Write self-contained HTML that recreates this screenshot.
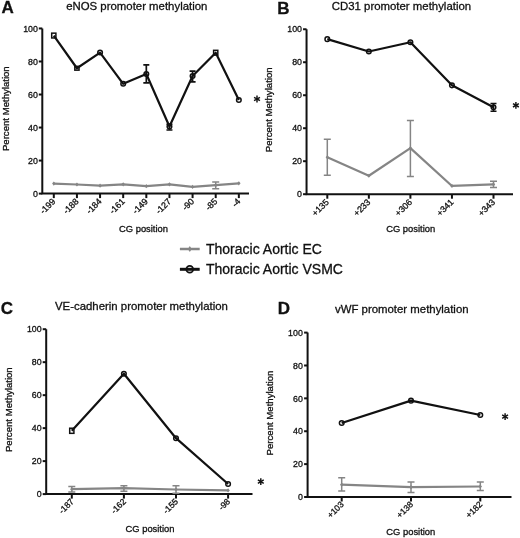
<!DOCTYPE html>
<html><head><meta charset="utf-8"><style>
html,body{margin:0;padding:0;background:#fff;}
body{width:520px;height:538px;overflow:hidden;font-family:"Liberation Sans", sans-serif;}
svg{display:block;filter:grayscale(1);}
text{stroke:#111;stroke-width:0.3px;}
</style></head><body>
<svg width="520" height="538" viewBox="0 0 520 538" font-family='"Liberation Sans", sans-serif' fill="#111">
<rect width="520" height="538" fill="#fff"/>
<text x="1.5" y="13.3" font-size="17" font-weight="bold" stroke="#111" stroke-width="0.5">A</text><text x="66.2" y="10.2" font-size="11.4">eNOS promoter methylation</text><path d="M42.3 28.45 V193.6 H249" fill="none" stroke="#111" stroke-width="2"/><line x1="38.8" y1="193.60" x2="42.3" y2="193.60" stroke="#111" stroke-width="2"/><text x="37.9" y="196.80" font-size="8.8" text-anchor="end">0</text><line x1="38.8" y1="160.57" x2="42.3" y2="160.57" stroke="#111" stroke-width="2"/><text x="37.9" y="163.77" font-size="8.8" text-anchor="end">20</text><line x1="38.8" y1="127.54" x2="42.3" y2="127.54" stroke="#111" stroke-width="2"/><text x="37.9" y="130.74" font-size="8.8" text-anchor="end">40</text><line x1="38.8" y1="94.51" x2="42.3" y2="94.51" stroke="#111" stroke-width="2"/><text x="37.9" y="97.71" font-size="8.8" text-anchor="end">60</text><line x1="38.8" y1="61.48" x2="42.3" y2="61.48" stroke="#111" stroke-width="2"/><text x="37.9" y="64.68" font-size="8.8" text-anchor="end">80</text><line x1="38.8" y1="28.45" x2="42.3" y2="28.45" stroke="#111" stroke-width="2"/><text x="37.9" y="31.65" font-size="8.8" text-anchor="end">100</text><line x1="53.80" y1="193.6" x2="53.80" y2="198.1" stroke="#111" stroke-width="2"/><text transform="translate(56.00,202.10) rotate(-45)" font-size="8.8" text-anchor="end">-199</text><line x1="76.93" y1="193.6" x2="76.93" y2="198.1" stroke="#111" stroke-width="2"/><text transform="translate(79.13,202.10) rotate(-45)" font-size="8.8" text-anchor="end">-188</text><line x1="100.06" y1="193.6" x2="100.06" y2="198.1" stroke="#111" stroke-width="2"/><text transform="translate(102.26,202.10) rotate(-45)" font-size="8.8" text-anchor="end">-184</text><line x1="123.19" y1="193.6" x2="123.19" y2="198.1" stroke="#111" stroke-width="2"/><text transform="translate(125.39,202.10) rotate(-45)" font-size="8.8" text-anchor="end">-161</text><line x1="146.32" y1="193.6" x2="146.32" y2="198.1" stroke="#111" stroke-width="2"/><text transform="translate(148.52,202.10) rotate(-45)" font-size="8.8" text-anchor="end">-149</text><line x1="169.45" y1="193.6" x2="169.45" y2="198.1" stroke="#111" stroke-width="2"/><text transform="translate(171.65,202.10) rotate(-45)" font-size="8.8" text-anchor="end">-127</text><line x1="192.58" y1="193.6" x2="192.58" y2="198.1" stroke="#111" stroke-width="2"/><text transform="translate(194.78,202.10) rotate(-45)" font-size="8.8" text-anchor="end">-90</text><line x1="215.71" y1="193.6" x2="215.71" y2="198.1" stroke="#111" stroke-width="2"/><text transform="translate(217.91,202.10) rotate(-45)" font-size="8.8" text-anchor="end">-85</text><line x1="238.84" y1="193.6" x2="238.84" y2="198.1" stroke="#111" stroke-width="2"/><text transform="translate(241.04,202.10) rotate(-45)" font-size="8.8" text-anchor="end">-4</text><text x="143.5" y="231.9" font-size="9.4" text-anchor="middle">CG position</text><text transform="translate(8.6,108.7) rotate(-90)" font-size="9.6" text-anchor="middle">Percent Methylation</text><path d="M215.71 188.65 V182.04 M212.21 188.65 H219.21 M212.21 182.04 H219.21" stroke="#858585" stroke-width="1.5" fill="none"/><polyline points="53.80,183.53 76.93,184.52 100.06,185.67 123.19,184.35 146.32,186.17 169.45,184.35 192.58,186.83 215.71,185.18 238.84,183.36" fill="none" stroke="#858585" stroke-width="2.2" stroke-linejoin="round"/><path d="M52.10 183.53 L53.80 181.43 L55.50 183.53 L53.80 185.63Z" fill="#858585"/><path d="M75.23 184.52 L76.93 182.42 L78.63 184.52 L76.93 186.62Z" fill="#858585"/><path d="M98.36 185.67 L100.06 183.57 L101.76 185.67 L100.06 187.77Z" fill="#858585"/><path d="M121.49 184.35 L123.19 182.25 L124.89 184.35 L123.19 186.45Z" fill="#858585"/><path d="M144.62 186.17 L146.32 184.07 L148.02 186.17 L146.32 188.27Z" fill="#858585"/><path d="M167.75 184.35 L169.45 182.25 L171.15 184.35 L169.45 186.45Z" fill="#858585"/><path d="M190.88 186.83 L192.58 184.73 L194.28 186.83 L192.58 188.93Z" fill="#858585"/><path d="M214.01 185.18 L215.71 183.08 L217.41 185.18 L215.71 187.28Z" fill="#858585"/><path d="M237.14 183.36 L238.84 181.26 L240.54 183.36 L238.84 185.46Z" fill="#858585"/><path d="M146.32 82.78 V64.95 M143.32 82.78 H149.32 M143.32 64.95 H149.32" stroke="#111" stroke-width="1.7" fill="none"/><path d="M169.45 130.02 V124.24 M166.45 130.02 H172.45 M166.45 124.24 H172.45" stroke="#111" stroke-width="1.7" fill="none"/><path d="M192.58 81.79 V71.06 M189.58 81.79 H195.58 M189.58 71.06 H195.58" stroke="#111" stroke-width="1.7" fill="none"/><polyline points="53.80,35.55 76.93,68.25 100.06,52.56 123.19,83.78 146.32,74.03 169.45,126.55 192.58,76.01 215.71,52.73 238.84,99.96" fill="none" stroke="#111" stroke-width="2.2" stroke-linejoin="round"/><rect x="51.70" y="33.15" width="4.20" height="4.80" fill="none" stroke="#111" stroke-width="1.5"/><rect x="74.83" y="66.35" width="4.20" height="3.80" fill="none" stroke="#111" stroke-width="1.5"/><circle cx="100.06" cy="52.56" r="2.3" fill="none" stroke="#111" stroke-width="1.5"/><circle cx="123.19" cy="83.78" r="2.3" fill="none" stroke="#111" stroke-width="1.5"/><circle cx="146.32" cy="74.03" r="2.3" fill="none" stroke="#111" stroke-width="1.5"/><circle cx="169.45" cy="126.55" r="2.3" fill="none" stroke="#111" stroke-width="1.5"/><circle cx="192.58" cy="76.01" r="2.3" fill="none" stroke="#111" stroke-width="1.5"/><rect x="213.61" y="50.33" width="4.20" height="4.80" fill="none" stroke="#111" stroke-width="1.5"/><circle cx="238.84" cy="99.96" r="2.3" fill="none" stroke="#111" stroke-width="1.5"/><line x1="257.00" y1="95.60" x2="257.00" y2="102.40" stroke="#111" stroke-width="1.45"/><line x1="254.06" y1="97.30" x2="259.94" y2="100.70" stroke="#111" stroke-width="1.45"/><line x1="254.06" y1="100.70" x2="259.94" y2="97.30" stroke="#111" stroke-width="1.45"/>
<text x="277.3" y="13.5" font-size="17" font-weight="bold" stroke="#111" stroke-width="0.5">B</text><text x="331.8" y="10.2" font-size="11.4">CD31 promoter methylation</text><path d="M306.55 29.25 V194.2 H513" fill="none" stroke="#111" stroke-width="2"/><line x1="303.05" y1="194.20" x2="306.55" y2="194.20" stroke="#111" stroke-width="2"/><text x="302.0" y="197.40" font-size="8.8" text-anchor="end">0</text><line x1="303.05" y1="161.21" x2="306.55" y2="161.21" stroke="#111" stroke-width="2"/><text x="302.0" y="164.41" font-size="8.8" text-anchor="end">20</text><line x1="303.05" y1="128.22" x2="306.55" y2="128.22" stroke="#111" stroke-width="2"/><text x="302.0" y="131.42" font-size="8.8" text-anchor="end">40</text><line x1="303.05" y1="95.23" x2="306.55" y2="95.23" stroke="#111" stroke-width="2"/><text x="302.0" y="98.43" font-size="8.8" text-anchor="end">60</text><line x1="303.05" y1="62.24" x2="306.55" y2="62.24" stroke="#111" stroke-width="2"/><text x="302.0" y="65.44" font-size="8.8" text-anchor="end">80</text><line x1="303.05" y1="29.25" x2="306.55" y2="29.25" stroke="#111" stroke-width="2"/><text x="302.0" y="32.45" font-size="8.8" text-anchor="end">100</text><line x1="327.30" y1="194.2" x2="327.30" y2="198.7" stroke="#111" stroke-width="2"/><text transform="translate(329.50,202.70) rotate(-45)" font-size="8.8" text-anchor="end">+135</text><line x1="368.85" y1="194.2" x2="368.85" y2="198.7" stroke="#111" stroke-width="2"/><text transform="translate(371.05,202.70) rotate(-45)" font-size="8.8" text-anchor="end">+233</text><line x1="410.40" y1="194.2" x2="410.40" y2="198.7" stroke="#111" stroke-width="2"/><text transform="translate(412.60,202.70) rotate(-45)" font-size="8.8" text-anchor="end">+306</text><line x1="451.95" y1="194.2" x2="451.95" y2="198.7" stroke="#111" stroke-width="2"/><text transform="translate(454.15,202.70) rotate(-45)" font-size="8.8" text-anchor="end">+341</text><line x1="493.50" y1="194.2" x2="493.50" y2="198.7" stroke="#111" stroke-width="2"/><text transform="translate(495.70,202.70) rotate(-45)" font-size="8.8" text-anchor="end">+343</text><text x="410.7" y="231.6" font-size="9.4" text-anchor="middle">CG position</text><text transform="translate(272.4,109.8) rotate(-90)" font-size="9.6" text-anchor="middle">Percent Methylation</text><path d="M327.30 175.23 V139.27 M323.80 175.23 H330.80 M323.80 139.27 H330.80" stroke="#858585" stroke-width="1.5" fill="none"/><path d="M410.40 176.55 V120.47 M406.90 176.55 H413.90 M406.90 120.47 H413.90" stroke="#858585" stroke-width="1.5" fill="none"/><path d="M493.50 187.44 V181.33 M490.00 187.44 H497.00 M490.00 181.33 H497.00" stroke="#858585" stroke-width="1.5" fill="none"/><polyline points="327.30,157.25 368.85,175.73 410.40,148.18 451.95,185.95 493.50,184.47" fill="none" stroke="#858585" stroke-width="2.2" stroke-linejoin="round"/><path d="M325.60 157.25 L327.30 155.15 L329.00 157.25 L327.30 159.35Z" fill="#858585"/><path d="M367.15 175.73 L368.85 173.63 L370.55 175.73 L368.85 177.83Z" fill="#858585"/><path d="M408.70 148.18 L410.40 146.08 L412.10 148.18 L410.40 150.28Z" fill="#858585"/><path d="M450.25 185.95 L451.95 183.85 L453.65 185.95 L451.95 188.05Z" fill="#858585"/><path d="M491.80 184.47 L493.50 182.37 L495.20 184.47 L493.50 186.57Z" fill="#858585"/><path d="M493.50 111.23 V103.48 M490.50 111.23 H496.50 M490.50 103.48 H496.50" stroke="#111" stroke-width="1.7" fill="none"/><polyline points="327.30,39.15 368.85,51.52 410.40,42.28 451.95,85.33 493.50,107.27" fill="none" stroke="#111" stroke-width="2.2" stroke-linejoin="round"/><circle cx="327.30" cy="39.15" r="2.3" fill="none" stroke="#111" stroke-width="1.5"/><circle cx="368.85" cy="51.52" r="2.3" fill="none" stroke="#111" stroke-width="1.5"/><circle cx="410.40" cy="42.28" r="2.3" fill="none" stroke="#111" stroke-width="1.5"/><circle cx="451.95" cy="85.33" r="2.3" fill="none" stroke="#111" stroke-width="1.5"/><circle cx="493.50" cy="107.27" r="2.3" fill="none" stroke="#111" stroke-width="1.5"/><line x1="515.90" y1="101.90" x2="515.90" y2="108.70" stroke="#111" stroke-width="1.45"/><line x1="512.96" y1="103.60" x2="518.84" y2="107.00" stroke="#111" stroke-width="1.45"/><line x1="512.96" y1="107.00" x2="518.84" y2="103.60" stroke="#111" stroke-width="1.45"/>
<text x="0.8" y="313.8" font-size="17" font-weight="bold" stroke="#111" stroke-width="0.5">C</text><text x="55.0" y="310.1" font-size="11.4">VE-cadherin promoter methylation</text><path d="M46.2 329.2 V494.1 H252.5" fill="none" stroke="#111" stroke-width="2"/><line x1="42.7" y1="494.10" x2="46.2" y2="494.10" stroke="#111" stroke-width="2"/><text x="41.6" y="497.30" font-size="8.8" text-anchor="end">0</text><line x1="42.7" y1="461.12" x2="46.2" y2="461.12" stroke="#111" stroke-width="2"/><text x="41.6" y="464.32" font-size="8.8" text-anchor="end">20</text><line x1="42.7" y1="428.14" x2="46.2" y2="428.14" stroke="#111" stroke-width="2"/><text x="41.6" y="431.34" font-size="8.8" text-anchor="end">40</text><line x1="42.7" y1="395.16" x2="46.2" y2="395.16" stroke="#111" stroke-width="2"/><text x="41.6" y="398.36" font-size="8.8" text-anchor="end">60</text><line x1="42.7" y1="362.18" x2="46.2" y2="362.18" stroke="#111" stroke-width="2"/><text x="41.6" y="365.38" font-size="8.8" text-anchor="end">80</text><line x1="42.7" y1="329.20" x2="46.2" y2="329.20" stroke="#111" stroke-width="2"/><text x="41.6" y="332.40" font-size="8.8" text-anchor="end">100</text><line x1="71.80" y1="494.1" x2="71.80" y2="498.6" stroke="#111" stroke-width="2"/><text transform="translate(74.40,502.10) rotate(-45)" font-size="8.5" text-anchor="end">-187</text><line x1="123.90" y1="494.1" x2="123.90" y2="498.6" stroke="#111" stroke-width="2"/><text transform="translate(126.50,502.10) rotate(-45)" font-size="8.5" text-anchor="end">-162</text><line x1="176.00" y1="494.1" x2="176.00" y2="498.6" stroke="#111" stroke-width="2"/><text transform="translate(178.60,502.10) rotate(-45)" font-size="8.5" text-anchor="end">-155</text><line x1="228.10" y1="494.1" x2="228.10" y2="498.6" stroke="#111" stroke-width="2"/><text transform="translate(230.70,502.10) rotate(-45)" font-size="8.5" text-anchor="end">-98</text><text x="150" y="532.3" font-size="9.4" text-anchor="middle">CG position</text><text transform="translate(11.5,409.7) rotate(-90)" font-size="9.6" text-anchor="middle">Percent Methylation</text><path d="M71.80 491.96 V486.51 M68.30 491.96 H75.30 M68.30 486.51 H75.30" stroke="#858585" stroke-width="1.5" fill="none"/><path d="M123.90 491.13 V485.86 M120.40 491.13 H127.40 M120.40 485.86 H127.40" stroke="#858585" stroke-width="1.5" fill="none"/><path d="M176.00 493.28 V485.69 M172.50 493.28 H179.50 M172.50 485.69 H179.50" stroke="#858585" stroke-width="1.5" fill="none"/><polyline points="71.80,489.15 123.90,488.16 176.00,489.48 228.10,490.47" fill="none" stroke="#858585" stroke-width="2.2" stroke-linejoin="round"/><path d="M70.10 489.15 L71.80 487.05 L73.50 489.15 L71.80 491.25Z" fill="#858585"/><path d="M122.20 488.16 L123.90 486.06 L125.60 488.16 L123.90 490.26Z" fill="#858585"/><path d="M174.30 489.48 L176.00 487.38 L177.70 489.48 L176.00 491.58Z" fill="#858585"/><path d="M226.40 490.47 L228.10 488.37 L229.80 490.47 L228.10 492.57Z" fill="#858585"/><polyline points="71.80,430.78 123.90,373.72 176.00,438.20 228.10,484.04" fill="none" stroke="#111" stroke-width="2.2" stroke-linejoin="round"/><rect x="69.70" y="428.23" width="4.20" height="5.10" fill="none" stroke="#111" stroke-width="1.5"/><circle cx="123.90" cy="373.72" r="2.3" fill="none" stroke="#111" stroke-width="1.5"/><circle cx="176.00" cy="438.20" r="2.3" fill="none" stroke="#111" stroke-width="1.5"/><circle cx="228.10" cy="484.04" r="2.3" fill="none" stroke="#111" stroke-width="1.5"/><line x1="260.80" y1="478.20" x2="260.80" y2="485.00" stroke="#111" stroke-width="1.45"/><line x1="257.86" y1="479.90" x2="263.74" y2="483.30" stroke="#111" stroke-width="1.45"/><line x1="257.86" y1="483.30" x2="263.74" y2="479.90" stroke="#111" stroke-width="1.45"/>
<text x="277.8" y="313.8" font-size="17" font-weight="bold" stroke="#111" stroke-width="0.5">D</text><text x="335.0" y="313.3" font-size="11.4">vWF promoter methylation</text><path d="M307.6 332.6 V497.0 H511.5" fill="none" stroke="#111" stroke-width="2"/><line x1="304.1" y1="497.00" x2="307.6" y2="497.00" stroke="#111" stroke-width="2"/><text x="302.8" y="500.20" font-size="8.8" text-anchor="end">0</text><line x1="304.1" y1="464.12" x2="307.6" y2="464.12" stroke="#111" stroke-width="2"/><text x="302.8" y="467.32" font-size="8.8" text-anchor="end">20</text><line x1="304.1" y1="431.24" x2="307.6" y2="431.24" stroke="#111" stroke-width="2"/><text x="302.8" y="434.44" font-size="8.8" text-anchor="end">40</text><line x1="304.1" y1="398.36" x2="307.6" y2="398.36" stroke="#111" stroke-width="2"/><text x="302.8" y="401.56" font-size="8.8" text-anchor="end">60</text><line x1="304.1" y1="365.48" x2="307.6" y2="365.48" stroke="#111" stroke-width="2"/><text x="302.8" y="368.68" font-size="8.8" text-anchor="end">80</text><line x1="304.1" y1="332.60" x2="307.6" y2="332.60" stroke="#111" stroke-width="2"/><text x="302.8" y="335.80" font-size="8.8" text-anchor="end">100</text><line x1="341.70" y1="497.0" x2="341.70" y2="501.5" stroke="#111" stroke-width="2"/><text transform="translate(344.30,505.00) rotate(-45)" font-size="8.5" text-anchor="end">+103</text><line x1="411.00" y1="497.0" x2="411.00" y2="501.5" stroke="#111" stroke-width="2"/><text transform="translate(413.60,505.00) rotate(-45)" font-size="8.5" text-anchor="end">+138</text><line x1="480.30" y1="497.0" x2="480.30" y2="501.5" stroke="#111" stroke-width="2"/><text transform="translate(482.90,505.00) rotate(-45)" font-size="8.5" text-anchor="end">+182</text><text x="410.8" y="534.6" font-size="9.4" text-anchor="middle">CG position</text><text transform="translate(273.2,413) rotate(-90)" font-size="9.6" text-anchor="middle">Percent Methylation</text><path d="M341.70 491.08 V477.77 M338.20 491.08 H345.20 M338.20 477.77 H345.20" stroke="#858585" stroke-width="1.5" fill="none"/><path d="M411.00 492.56 V481.88 M407.50 492.56 H414.50 M407.50 481.88 H414.50" stroke="#858585" stroke-width="1.5" fill="none"/><path d="M480.30 490.42 V481.88 M476.80 490.42 H483.80 M476.80 481.88 H483.80" stroke="#858585" stroke-width="1.5" fill="none"/><polyline points="341.70,484.67 411.00,487.14 480.30,486.48" fill="none" stroke="#858585" stroke-width="2.2" stroke-linejoin="round"/><path d="M340.00 484.67 L341.70 482.57 L343.40 484.67 L341.70 486.77Z" fill="#858585"/><path d="M409.30 487.14 L411.00 485.04 L412.70 487.14 L411.00 489.24Z" fill="#858585"/><path d="M478.60 486.48 L480.30 484.38 L482.00 486.48 L480.30 488.58Z" fill="#858585"/><polyline points="341.70,423.02 411.00,400.66 480.30,414.96" fill="none" stroke="#111" stroke-width="2.2" stroke-linejoin="round"/><circle cx="341.70" cy="423.02" r="2.3" fill="none" stroke="#111" stroke-width="1.5"/><circle cx="411.00" cy="400.66" r="2.3" fill="none" stroke="#111" stroke-width="1.5"/><circle cx="480.30" cy="414.96" r="2.3" fill="none" stroke="#111" stroke-width="1.5"/><line x1="505.10" y1="413.20" x2="505.10" y2="420.00" stroke="#111" stroke-width="1.45"/><line x1="502.16" y1="414.90" x2="508.04" y2="418.30" stroke="#111" stroke-width="1.45"/><line x1="502.16" y1="418.30" x2="508.04" y2="414.90" stroke="#111" stroke-width="1.45"/>
<line x1="179.9" y1="249" x2="199.7" y2="249" stroke="#858585" stroke-width="2.5"/><path d="M187.9 249 L189.8 246 L191.7 249 L189.8 252Z" fill="#858585"/><line x1="179.9" y1="269.3" x2="199.7" y2="269.3" stroke="#111" stroke-width="3"/><circle cx="189.75" cy="269.3" r="3.4" fill="none" stroke="#111" stroke-width="1.8"/><text x="206" y="254.2" font-size="14">Thoracic Aortic EC</text><text x="206" y="274.2" font-size="14">Thoracic Aortic VSMC</text>
</svg>
</body></html>
